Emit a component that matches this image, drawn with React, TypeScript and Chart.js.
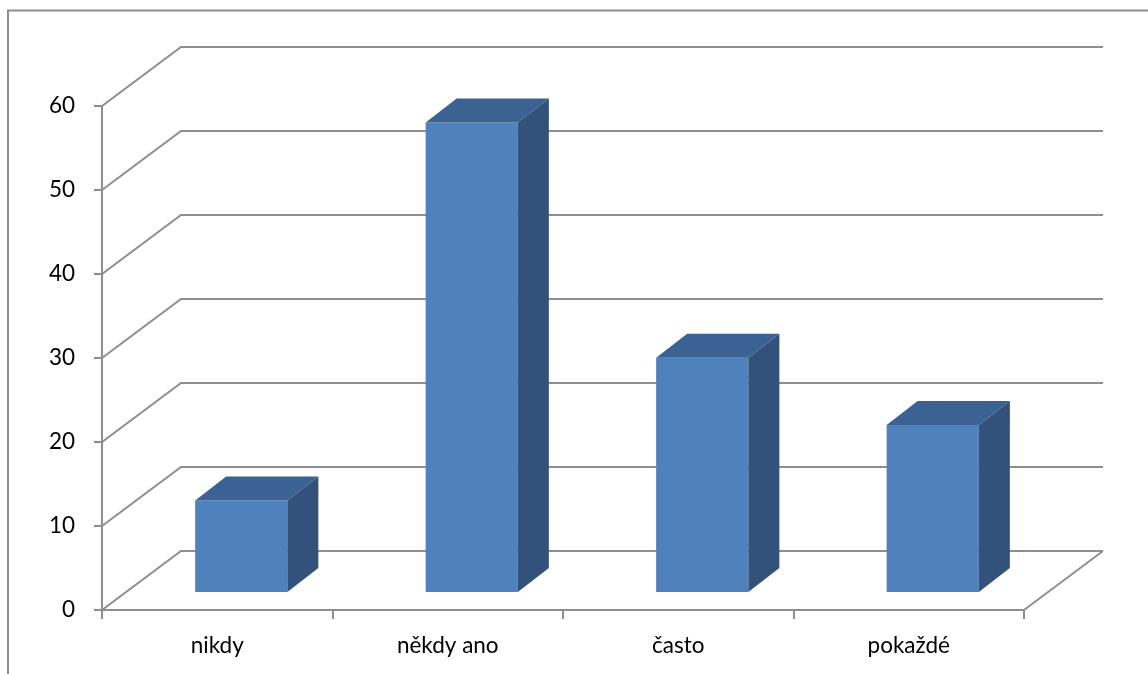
import React, { useEffect, useRef } from "react";
import { Chart, registerables } from "chart.js";

Chart.register(...registerables);

// Survey answers and their counts
const categories: string[] = ["nikdy", "někdy ano", "často", "pokaždé"];
const counts: number[] = [11, 56, 28, 20];

// Value axis range
const yMin = 0;
const yMax = 60;
const yStep = 10;

// Colours of the 3D box faces and the frame
const FRONT = "#4f81bd";
const TOP = "#3b6292";
const SIDE = "#32527c";
const LINE = "#8e8e8e";

// Perspective offsets: back wall relative to the front plane,
// bar front relative to the front plane, and bar depth
const WALL_DX = 79;
const WALL_DY = -59;
const BAR_DX = 24;
const BAR_DY = -17;
const DEPTH_DX = 31;
const DEPTH_DY = -24;

const perspective = {
  id: "perspective",
  beforeDatasetsDraw(chart: any) {
    const { ctx, chartArea, scales } = chart;
    const y = scales.y;
    ctx.save();
    ctx.strokeStyle = LINE;
    ctx.lineWidth = 2;
    ctx.lineCap = "butt";

    // outer frame of the chart
    ctx.beginPath();
    ctx.moveTo(8, chart.height + 4);
    ctx.lineTo(8, 10.5);
    ctx.lineTo(chart.width + 4, 10.5);
    ctx.stroke();

    // back wall gridlines and the side-wall diagonals
    for (const t of y.ticks) {
      const py = y.getPixelForValue(t.value);
      ctx.beginPath();
      ctx.moveTo(chartArea.left, py);
      ctx.lineTo(chartArea.left + WALL_DX, py + WALL_DY);
      ctx.lineTo(chartArea.right + WALL_DX, py + WALL_DY);
      ctx.stroke();
    }

    // right edge of the floor
    ctx.beginPath();
    ctx.moveTo(chartArea.right, chartArea.bottom);
    ctx.lineTo(chartArea.right + WALL_DX, chartArea.bottom + WALL_DY);
    ctx.stroke();
    ctx.restore();

    // bars are drawn on their own plane inside the box
    ctx.save();
    ctx.translate(BAR_DX, BAR_DY);
  },
  afterDatasetsDraw(chart: any) {
    const { ctx } = chart;
    ctx.restore();
    const meta = chart.getDatasetMeta(0);
    ctx.save();
    meta.data.forEach((bar: any) => {
      const { x, y, base, width } = bar.getProps(["x", "y", "base", "width"], true);
      const left = x - width / 2 + BAR_DX;
      const right = x + width / 2 + BAR_DX;
      const top = y + BAR_DY;
      const bottom = base + BAR_DY;

      // top face
      ctx.fillStyle = TOP;
      ctx.beginPath();
      ctx.moveTo(left, top);
      ctx.lineTo(left + DEPTH_DX, top + DEPTH_DY);
      ctx.lineTo(right + DEPTH_DX, top + DEPTH_DY);
      ctx.lineTo(right, top);
      ctx.closePath();
      ctx.fill();

      // right side face
      ctx.fillStyle = SIDE;
      ctx.beginPath();
      ctx.moveTo(right, top);
      ctx.lineTo(right + DEPTH_DX, top + DEPTH_DY);
      ctx.lineTo(right + DEPTH_DX, bottom + DEPTH_DY);
      ctx.lineTo(right, bottom);
      ctx.closePath();
      ctx.fill();
    });
    ctx.restore();
  },
};

export default function App() {
  const ref = useRef<HTMLCanvasElement | null>(null);

  useEffect(() => {
    if (!ref.current) return;
    const font = { family: "Lato, 'Open Sans', sans-serif", size: 22.5 };
    const chart = new Chart(ref.current, {
      type: "bar",
      data: {
        labels: categories,
        datasets: [
          {
            data: counts,
            backgroundColor: FRONT,
            borderWidth: 0,
            barPercentage: 0.4,
            categoryPercentage: 1,
          },
        ],
      },
      options: {
        responsive: false,
        animation: false,
        devicePixelRatio: 1,
        layout: { padding: { left: 0, right: 124, top: 106, bottom: 0 } },
        plugins: {
          legend: { display: false },
          tooltip: { enabled: false },
        },
        datasets: { bar: { clip: false } as any },
        scales: {
          x: {
            offset: true,
            grid: {
              offset: true,
              drawOnChartArea: false,
              tickLength: 9,
              color: LINE,
              lineWidth: 2,
            },
            border: { display: true, color: LINE, width: 2 },
            ticks: { color: "#000", font, padding: 13, maxRotation: 0 },
            afterFit: (s: any) => {
              s.height = 64;
            },
          },
          y: {
            min: yMin,
            max: yMax,
            grid: {
              drawOnChartArea: false,
              tickLength: 8,
              color: LINE,
              lineWidth: 2,
            },
            border: { display: true, color: LINE, width: 2 },
            ticks: { stepSize: yStep, color: "#000", font, padding: 19 },
            afterFit: (s: any) => {
              s.width = 102;
            },
          },
        },
      },
      plugins: [perspective],
    });
    return () => chart.destroy();
  }, []);

  return (
    <div style={{ position: "absolute", left: 0, top: 0, width: 1148, height: 674, background: "#fff" }}>
      <canvas ref={ref} width={1148} height={674} style={{ display: "block" }} />
    </div>
  );
}
